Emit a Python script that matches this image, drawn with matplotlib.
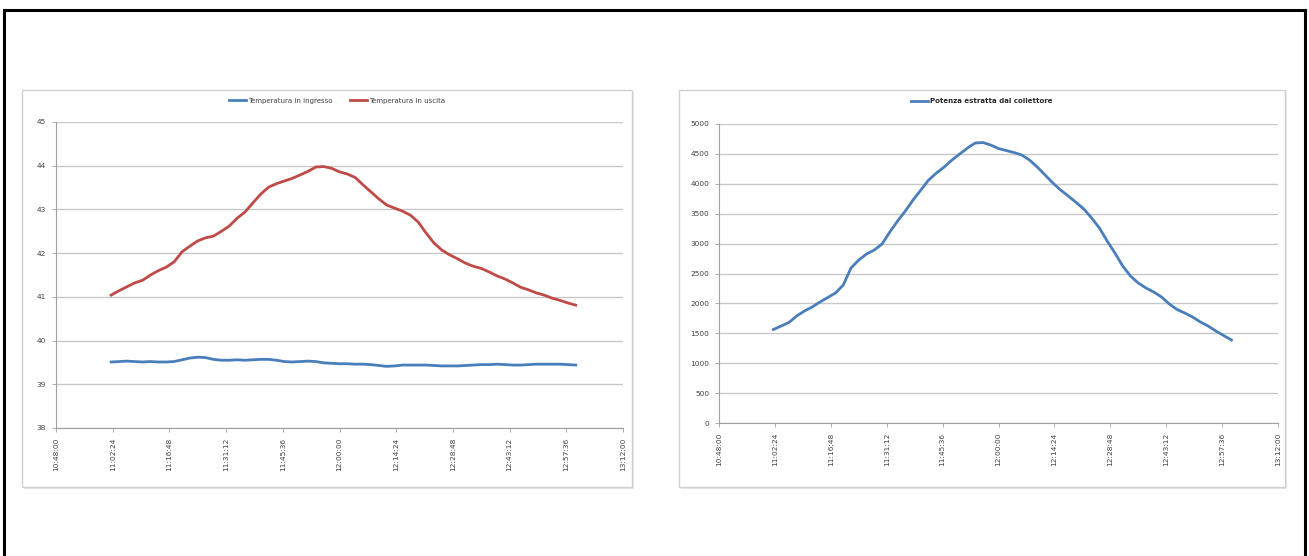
import numpy as np
import matplotlib
matplotlib.use('Agg')
import matplotlib.pyplot as plt
from matplotlib.patches import Rectangle
from matplotlib.lines import Line2D

# orari dei campioni (minuti dalla mezzanotte, un campione ogni 2 minuti 11:02 -> 13:00)
tempo = np.arange(662, 781, 2)

# temperatura in ingresso (°C)
t_ingresso = [39.51, 39.52, 39.53, 39.52, 39.51, 39.52, 39.51, 39.51, 39.52, 39.56,
              39.60, 39.62, 39.61, 39.57, 39.55, 39.55, 39.56, 39.55, 39.56, 39.57,
              39.57, 39.55, 39.52, 39.51, 39.52, 39.53, 39.52, 39.49, 39.48, 39.47,
              39.47, 39.46, 39.46, 39.45, 39.43, 39.41, 39.42, 39.44, 39.44, 39.44,
              39.44, 39.43, 39.42, 39.42, 39.42, 39.43, 39.44, 39.45, 39.45, 39.46,
              39.45, 39.44, 39.44, 39.45, 39.46, 39.46, 39.46, 39.46, 39.45, 39.44]

# temperatura in uscita (°C)
t_uscita = [41.04, 41.14, 41.23, 41.32, 41.38, 41.50, 41.60, 41.68, 41.80, 42.03,
            42.16, 42.28, 42.35, 42.39, 42.50, 42.62, 42.80, 42.94, 43.15, 43.35,
            43.51, 43.59, 43.65, 43.71, 43.79, 43.87, 43.97, 43.98, 43.94, 43.86,
            43.81, 43.73, 43.56, 43.40, 43.24, 43.10, 43.03, 42.96, 42.87, 42.71,
            42.46, 42.23, 42.07, 41.96, 41.87, 41.77, 41.70, 41.65, 41.57, 41.48,
            41.41, 41.32, 41.22, 41.16, 41.09, 41.04, 40.97, 40.92, 40.86, 40.81]

# potenza estratta dal collettore (W)
potenza = [1563, 1622, 1680, 1789, 1873, 1940, 2023, 2098, 2174, 2307,
           2592, 2725, 2826, 2893, 2993, 3194, 3377, 3545, 3729, 3896,
           4063, 4180, 4280, 4397, 4498, 4598, 4682, 4690, 4648, 4590,
           4556, 4523, 4481, 4397, 4280, 4147, 4013, 3896, 3795, 3687,
           3578, 3427, 3260, 3043, 2842, 2625, 2458, 2341, 2257, 2190,
           2107, 1990, 1898, 1839, 1772, 1689, 1622, 1538, 1463, 1388]

# asse x: tacche ogni 14:24 (0.01 giorni)
x_ticks = [648, 662.4, 676.8, 691.2, 705.6, 720, 734.4, 748.8, 763.2, 777.6, 792]
x_labels = ['10:48:00', '11:02:24', '11:16:48', '11:31:12', '11:45:36', '12:00:00',
            '12:14:24', '12:28:48', '12:43:12', '12:57:36', '13:12:00']

y_ticks_temp = [38, 39, 40, 41, 42, 43, 44, 45]
y_ticks_pot = [0, 500, 1000, 1500, 2000, 2500, 3000, 3500, 4000, 4500, 5000]

BLU = '#4A7EBB'
ROSSO = '#BE4B48'
GRIGIO_TESTO = '#404040'
W, H = 1309, 556


def px_rect(x0, y0, x1, y1):
    """pixel (origine in alto a sx) -> [left, bottom, width, height] in frazione"""
    return [x0 / W, 1 - y1 / H, (x1 - x0) / W, (y1 - y0) / H]


def stile_asse(ax, yticks):
    ax.set_xlim(648, 792)
    ax.set_ylim(yticks[0], yticks[-1])
    ax.set_xticks(x_ticks)
    ax.set_xticklabels(x_labels, rotation=90, fontsize=5.3, color=GRIGIO_TESTO)
    ax.set_yticks(yticks)
    ax.set_yticklabels([str(v) for v in yticks], fontsize=5.3, color=GRIGIO_TESTO)
    ax.grid(axis='y', color='#c8c8c8', linewidth=1.0)
    ax.set_axisbelow(True)
    for s in ['top', 'right']:
        ax.spines[s].set_visible(False)
    for s in ['left', 'bottom']:
        ax.spines[s].set_color('#a0a0a0')
        ax.spines[s].set_linewidth(0.8)
    ax.tick_params(axis='both', length=3, width=0.6, color='#a0a0a0', pad=4)


fig = plt.figure(figsize=(W / 100, H / 100), dpi=100)
fig.patch.set_facecolor('white')

# cornice nera esterna
for (xa, ya, xb, yb) in [(4, 10, 1305, 10), (4, 10, 4, 560), (1305, 10, 1305, 560)]:
    fig.add_artist(Line2D([xa / W, xb / W], [1 - ya / H, 1 - yb / H],
                          transform=fig.transFigure, color='black', linewidth=2.2))

# aree grafico (bordo grigio chiaro)
for (x0, x1) in [(22, 632), (679, 1285)]:
    l, b, w, h = px_rect(x0, 90, x1, 487)
    fig.add_artist(Rectangle((l + 1.5 / W, b - 1.5 / H), w, h, transform=fig.transFigure,
                             facecolor='#e8e8e8', edgecolor='none', zorder=0))
    fig.add_artist(Rectangle((l, b), w, h, transform=fig.transFigure,
                             facecolor='white', edgecolor='#d0d0d0', linewidth=1.0, zorder=0))

# grafico temperature
ax1 = fig.add_axes(px_rect(56, 122, 623, 428))
ax1.patch.set_alpha(0)
ax1.plot(tempo, t_ingresso, color=BLU, linewidth=2.0, label='Temperatura in ingresso')
ax1.plot(tempo, t_uscita, color=ROSSO, linewidth=2.0, label='Temperatura in uscita')
stile_asse(ax1, y_ticks_temp)
ax1.legend(loc='center', bbox_to_anchor=(0.496, 1.069), ncol=2, frameon=False,
           fontsize=5, handlelength=2.5, columnspacing=2.5, handletextpad=0.3,
           labelcolor=GRIGIO_TESTO)

# grafico potenza
ax2 = fig.add_axes(px_rect(719, 124, 1278, 423))
ax2.patch.set_alpha(0)
ax2.plot(tempo, potenza, color=BLU, linewidth=2.0, label='Potenza estratta dal collettore')
stile_asse(ax2, y_ticks_pot)
leg = ax2.legend(loc='center', bbox_to_anchor=(0.47, 1.077), frameon=False,
                 fontsize=5, handlelength=2.5, handletextpad=0.3)
for t in leg.get_texts():
    t.set_fontweight('bold')
    t.set_color('#262626')

fig.savefig('out.png', dpi=100)
